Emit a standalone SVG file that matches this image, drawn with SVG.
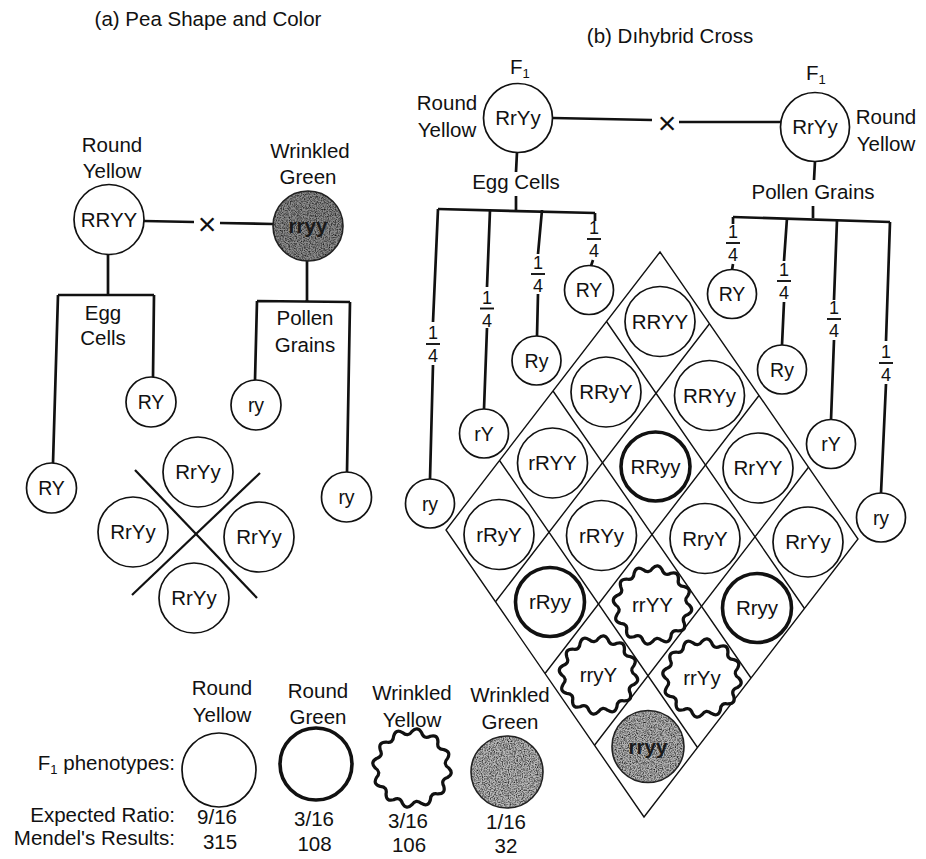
<svg xmlns="http://www.w3.org/2000/svg" xmlns:xlink="http://www.w3.org/1999/xlink" width="926" height="859" viewBox="0 0 926 859">
<style>
text { font-family: "Liberation Sans", Arial, Helvetica, sans-serif; fill: #111; }
.lb { font-size: 20.5px; text-anchor: middle; }
.le { font-size: 20.5px; text-anchor: end; }
.gt { font-size: 20.5px; text-anchor: middle; }
.al { font-size: 19.5px; text-anchor: middle; }
.fr { font-size: 18px; text-anchor: middle; }
.x { font-size: 32px; text-anchor: middle; }
.dk { font-weight: bold; fill: #1a1a1a; }
.ln { stroke: #111; stroke-width: 2.7; fill: none; }
.bar { stroke: #111; stroke-width: 1.9; }
.c { fill: #fff; stroke: #111; stroke-width: 1.7; }
.ck { fill: #fff; stroke: #111; stroke-width: 3.6; }
.wv { fill: #fff; stroke: #111; stroke-width: 3; }
.gr { stroke: none; filter: url(#speckle); }
.go { fill: none; stroke: #222; stroke-width: 1.6; }
.grid { stroke: #111; stroke-width: 1.4; fill: none; }
.xl { stroke: #111; stroke-width: 2.2; }
</style>
<defs>
<filter id="speckle" x="0" y="0" width="100%" height="100%" color-interpolation-filters="sRGB">
<feTurbulence type="fractalNoise" baseFrequency="0.85" numOctaves="2" seed="4" result="noise"/>
<feColorMatrix in="noise" type="matrix" values="0 0 0 0 0  0 0 0 0 0  0 0 0 0 0  1.8 0 0 0 -0.7" result="dots"/>
<feComposite in="dots" in2="SourceAlpha" operator="in" result="cd"/>
<feMerge><feMergeNode in="SourceGraphic"/><feMergeNode in="cd"/></feMerge>
</filter>
<path id="wavy" d="M34,0 Q39.16,5.16 32.84,8.80 Q26.33,10.91 29.44,17 Q31.34,24.05 24.04,24.04 Q17.35,22.61 17,29.44 Q15.12,36.49 8.80,32.84 Q3.72,28.26 0,34 Q-5.16,39.16 -8.80,32.84 Q-10.91,26.33 -17,29.44 Q-24.05,31.34 -24.04,24.04 Q-22.61,17.35 -29.44,17 Q-36.49,15.12 -32.84,8.80 Q-28.26,3.72 -34,0 Q-39.16,-5.16 -32.84,-8.80 Q-26.33,-10.91 -29.44,-17 Q-31.34,-24.05 -24.04,-24.04 Q-17.35,-22.61 -17,-29.44 Q-15.12,-36.49 -8.80,-32.84 Q-3.72,-28.26 0,-34 Q5.16,-39.16 8.80,-32.84 Q10.91,-26.33 17,-29.44 Q24.05,-31.34 24.04,-24.04 Q22.61,-17.35 29.44,-17 Q36.49,-15.12 32.84,-8.80 Q28.26,-3.72 34,0 Z"/>
</defs>
<rect width="926" height="859" fill="#fff"/>

<!-- ===== connectors ===== -->
<g id="connectors">
  <!-- part a -->
  <line class="ln" x1="144" y1="221" x2="194" y2="222"/>
  <line class="ln" x1="220" y1="223" x2="273" y2="224"/>
  <path class="ln" d="M108,254 L108,295 M58,295 L154,295 M58,295 L53,463 M154,295 L153,377"/>
  <path class="ln" d="M307,261 L307,301 M257,301 L350,302 M257,301 L255,380 M350,302 L347,472"/>
  <!-- part b: cross -->
  <line class="ln" x1="553" y1="118" x2="652" y2="120"/>
  <line class="ln" x1="679" y1="122" x2="781" y2="122"/>
  <!-- egg branches -->
  <path class="ln" d="M517,152 L516,172 M516,196 L516,210 M438,209 L595,213"/>
  <path class="ln" d="M595,213 L595,221 M593,260 L591,266"/>
  <path class="ln" d="M542,210 L538,254 M538,294 L537,336"/>
  <path class="ln" d="M490,210 L487,287 M487,328 L484,409"/>
  <path class="ln" d="M438,209 L433,322 M433,365 L430,479"/>
  <!-- pollen branches -->
  <path class="ln" d="M815,161 L814,180 M813,206 L813,218 M733,217 L890,222"/>
  <path class="ln" d="M733,217 L733,224 M733,264 L732,270"/>
  <path class="ln" d="M787,218 L784,261 M784,302 L782,345"/>
  <path class="ln" d="M837,220 L834,300 M834,340 L831,420"/>
  <path class="ln" d="M890,222 L886,341 M886,384 L881,493"/>
</g>

<!-- ===== part (a) ===== -->
<g id="a-title"><text class="lb" x="208" y="26">(a) Pea Shape and Color</text></g>
<g id="a-parent-RRYY">
  <text class="lb" x="112" y="152">Round</text>
  <text class="lb" x="112" y="178">Yellow</text>
  <circle class="c" cx="109" cy="219.5" r="35"/>
  <text class="gt" x="109" y="226.5">RRYY</text>
</g>
<g id="a-cross"><text class="x" x="207" y="235">×</text></g>
<g id="a-parent-rryy">
  <text class="lb" x="310" y="158">Wrinkled</text>
  <text class="lb" x="308" y="184">Green</text>
  <circle cx="308" cy="226" r="35" fill="#8c8c8c" class="gr"/>
  <circle class="go" cx="308" cy="226" r="35"/>
  <text class="gt dk" x="308" y="233">rryy</text>
</g>
<g id="a-egg-label"><text class="lb" x="103" y="320">Egg</text><text class="lb" x="103" y="345">Cells</text></g>
<g id="a-pollen-label"><text class="lb" x="305" y="325">Pollen</text><text class="lb" x="305" y="352">Grains</text></g>
<g id="a-egg-1"><circle class="c" cx="51.5" cy="488" r="25"/><text class="al" x="51.5" y="495">RY</text></g>
<g id="a-egg-2"><circle class="c" cx="151" cy="402" r="25"/><text class="al" x="151" y="409">RY</text></g>
<g id="a-pollen-1"><circle class="c" cx="256" cy="405" r="25"/><text class="al" x="256" y="412">ry</text></g>
<g id="a-pollen-2"><circle class="c" cx="346.5" cy="497" r="25"/><text class="al" x="346.5" y="504">ry</text></g>
<g id="a-punnett">
  <line class="xl" x1="135" y1="470" x2="257" y2="598"/>
  <line class="xl" x1="260" y1="473" x2="132" y2="595"/>
</g>
<g id="a-off-1"><circle class="c" cx="198" cy="472" r="35"/><text class="gt" x="198" y="479">RrYy</text></g>
<g id="a-off-2"><circle class="c" cx="133" cy="532" r="35"/><text class="gt" x="133" y="539">RrYy</text></g>
<g id="a-off-3"><circle class="c" cx="259" cy="537" r="35"/><text class="gt" x="259" y="544">RrYy</text></g>
<g id="a-off-4"><circle class="c" cx="194" cy="598" r="35"/><text class="gt" x="194" y="605">RrYy</text></g>

<!-- ===== part (b) ===== -->
<g id="b-title"><text class="lb" x="670" y="43">(b) Dıhybrid Cross</text></g>
<g id="b-parent-1">
  <text x="510" y="74" font-size="20.5">F<tspan font-size="13" dy="4">1</tspan></text>
  <text class="lb" x="447" y="110">Round</text>
  <text class="lb" x="447" y="137">Yellow</text>
  <circle class="c" cx="518" cy="118" r="34.5"/>
  <text class="gt" x="518" y="125">RrYy</text>
</g>
<g id="b-cross"><text class="x" x="667" y="134">×</text></g>
<g id="b-parent-2">
  <text x="806" y="80" font-size="20.5">F<tspan font-size="13" dy="4">1</tspan></text>
  <text class="lb" x="886" y="124">Round</text>
  <text class="lb" x="886" y="151">Yellow</text>
  <circle class="c" cx="815" cy="127" r="34.5"/>
  <text class="gt" x="815" y="134">RrYy</text>
</g>
<g id="b-egg-label"><text class="lb" x="516" y="189">Egg Cells</text></g>
<g id="b-pollen-label"><text class="lb" x="813" y="199">Pollen Grains</text></g>

<!-- egg gametes -->
<g id="b-egg-RY">
  <text class="fr" x="594" y="234">1</text><line class="bar" x1="587" y1="239" x2="601" y2="239"/><text class="fr" x="594" y="257">4</text>
  <circle class="c" cx="589" cy="290" r="24.5"/><text class="al" x="589" y="297">RY</text>
</g>
<g id="b-egg-Ry">
  <text class="fr" x="538" y="269">1</text><line class="bar" x1="531" y1="274" x2="545" y2="274"/><text class="fr" x="538" y="292">4</text>
  <circle class="c" cx="536.5" cy="360.5" r="24.5"/><text class="al" x="536.5" y="367.5">Ry</text>
</g>
<g id="b-egg-rY">
  <text class="fr" x="487" y="303.5">1</text><line class="bar" x1="480" y1="308.5" x2="494" y2="308.5"/><text class="fr" x="487" y="326.5">4</text>
  <circle class="c" cx="484" cy="433.5" r="24.5"/><text class="al" x="484" y="440.5">rY</text>
</g>
<g id="b-egg-ry">
  <text class="fr" x="433" y="339">1</text><line class="bar" x1="426" y1="344" x2="440" y2="344"/><text class="fr" x="433" y="362">4</text>
  <circle class="c" cx="430" cy="503.5" r="24.5"/><text class="al" x="430" y="510.5">ry</text>
</g>
<!-- pollen gametes -->
<g id="b-pollen-RY">
  <text class="fr" x="733" y="238">1</text><line class="bar" x1="726" y1="243" x2="740" y2="243"/><text class="fr" x="733" y="261">4</text>
  <circle class="c" cx="732" cy="294" r="24.5"/><text class="al" x="732" y="301">RY</text>
</g>
<g id="b-pollen-Ry">
  <text class="fr" x="784" y="276">1</text><line class="bar" x1="777" y1="281" x2="791" y2="281"/><text class="fr" x="784" y="299">4</text>
  <circle class="c" cx="782" cy="369.5" r="24.5"/><text class="al" x="782" y="376.5">Ry</text>
</g>
<g id="b-pollen-rY">
  <text class="fr" x="834" y="314">1</text><line class="bar" x1="827" y1="319" x2="841" y2="319"/><text class="fr" x="834" y="337">4</text>
  <circle class="c" cx="831" cy="444" r="24.5"/><text class="al" x="831" y="451">rY</text>
</g>
<g id="b-pollen-ry">
  <text class="fr" x="886" y="358">1</text><line class="bar" x1="879" y1="363" x2="893" y2="363"/><text class="fr" x="886" y="381">4</text>
  <circle class="c" cx="881" cy="517.5" r="24.5"/><text class="al" x="881" y="524.5">ry</text>
</g>

<!-- Punnett diamond grid -->
<g id="b-grid">
  <path class="grid" d="M660,252 L858,539 L644,817 L446,530 Z"/>
  <path class="grid" d="M709.5,323.75 L495.5,601.75 M759,395.5 L545,673.5 M808.5,467.25 L594.5,745.25"/>
  <path class="grid" d="M606.5,321.5 L804.5,608.5 M553,391 L751,678 M499.5,460.5 L697.5,747.5"/>
</g>

<g id="cell-RRYY"><circle class="c" cx="660" cy="321.5" r="35"/><text class="gt" x="660" y="328.5">RRYY</text></g>
<g id="cell-RRyY"><circle class="c" cx="606" cy="392" r="35"/><text class="gt" x="606" y="399">RRyY</text></g>
<g id="cell-RRYy"><circle class="c" cx="709.5" cy="395.5" r="35"/><text class="gt" x="709.5" y="402.5">RRYy</text></g>
<g id="cell-rRYY"><circle class="c" cx="552.5" cy="463" r="35"/><text class="gt" x="552.5" y="470">rRYY</text></g>
<g id="cell-RRyy"><circle class="ck" cx="655.5" cy="466.5" r="34.5"/><text class="gt" x="655.5" y="473.5">RRyy</text></g>
<g id="cell-RrYY"><circle class="c" cx="758" cy="468" r="35"/><text class="gt" x="758" y="475">RrYY</text></g>
<g id="cell-rRyY"><circle class="c" cx="499" cy="534.5" r="35"/><text class="gt" x="499" y="541.5">rRyY</text></g>
<g id="cell-rRYy"><circle class="c" cx="601.5" cy="535.5" r="35"/><text class="gt" x="601.5" y="542.5">rRYy</text></g>
<g id="cell-RryY"><circle class="c" cx="705" cy="538.5" r="35"/><text class="gt" x="705" y="545.5">RryY</text></g>
<g id="cell-RrYy"><circle class="c" cx="808" cy="542" r="35"/><text class="gt" x="808" y="549">RrYy</text></g>
<g id="cell-rRyy"><circle class="ck" cx="550" cy="602" r="34.5"/><text class="gt" x="550" y="609">rRyy</text></g>
<g id="cell-rrYY"><use href="#wavy" class="wv" transform="translate(652.5,605) scale(1.08)"/><text class="gt" x="652.5" y="612">rrYY</text></g>
<g id="cell-Rryy"><circle class="ck" cx="757" cy="608" r="34.5"/><text class="gt" x="757" y="615">Rryy</text></g>
<g id="cell-rryY"><use href="#wavy" class="wv" transform="translate(598.5,675) scale(1.08)"/><text class="gt" x="598.5" y="682">rryY</text></g>
<g id="cell-rrYy"><use href="#wavy" class="wv" transform="translate(702,678) scale(1.08)"/><text class="gt" x="702" y="685">rrYy</text></g>
<g id="cell-rryy">
  <circle cx="648" cy="746.5" r="36" fill="#b4b4b4" class="gr"/>
  <circle class="go" cx="648" cy="746.5" r="36"/>
  <text class="gt dk" x="648" y="753.5">rryy</text>
</g>

<!-- ===== legend ===== -->
<g id="legend-labels">
  <text class="le" x="175" y="770">F<tspan font-size="13" dy="4">1</tspan><tspan dy="-4"> phenotypes:</tspan></text>
  <text class="le" x="175" y="822">Expected Ratio:</text>
  <text class="le" x="175" y="845">Mendel's Results:</text>
</g>
<g id="legend-round-yellow">
  <text class="lb" x="222" y="695">Round</text>
  <text class="lb" x="222" y="722">Yellow</text>
  <circle class="c" cx="219" cy="770" r="37"/>
  <text class="lb" x="217" y="824">9/16</text>
  <text class="lb" x="220" y="849">315</text>
</g>
<g id="legend-round-green">
  <text class="lb" x="318" y="698">Round</text>
  <text class="lb" x="318" y="724">Green</text>
  <circle class="ck" cx="316" cy="764" r="36"/>
  <text class="lb" x="314" y="826">3/16</text>
  <text class="lb" x="314.5" y="851">108</text>
</g>
<g id="legend-wrinkled-yellow">
  <text class="lb" x="412" y="700">Wrinkled</text>
  <text class="lb" x="412" y="727">Yellow</text>
  <use href="#wavy" class="wv" transform="translate(412,768) scale(1.08)"/>
  <text class="lb" x="408" y="828">3/16</text>
  <text class="lb" x="409" y="852">106</text>
</g>
<g id="legend-wrinkled-green">
  <text class="lb" x="510" y="702">Wrinkled</text>
  <text class="lb" x="510" y="729">Green</text>
  <circle cx="507" cy="772" r="36" fill="#b8b8b8" class="gr"/>
  <circle class="go" cx="507" cy="772" r="36"/>
  <text class="lb" x="506" y="829">1/16</text>
  <text class="lb" x="506" y="853">32</text>
</g>
</svg>
